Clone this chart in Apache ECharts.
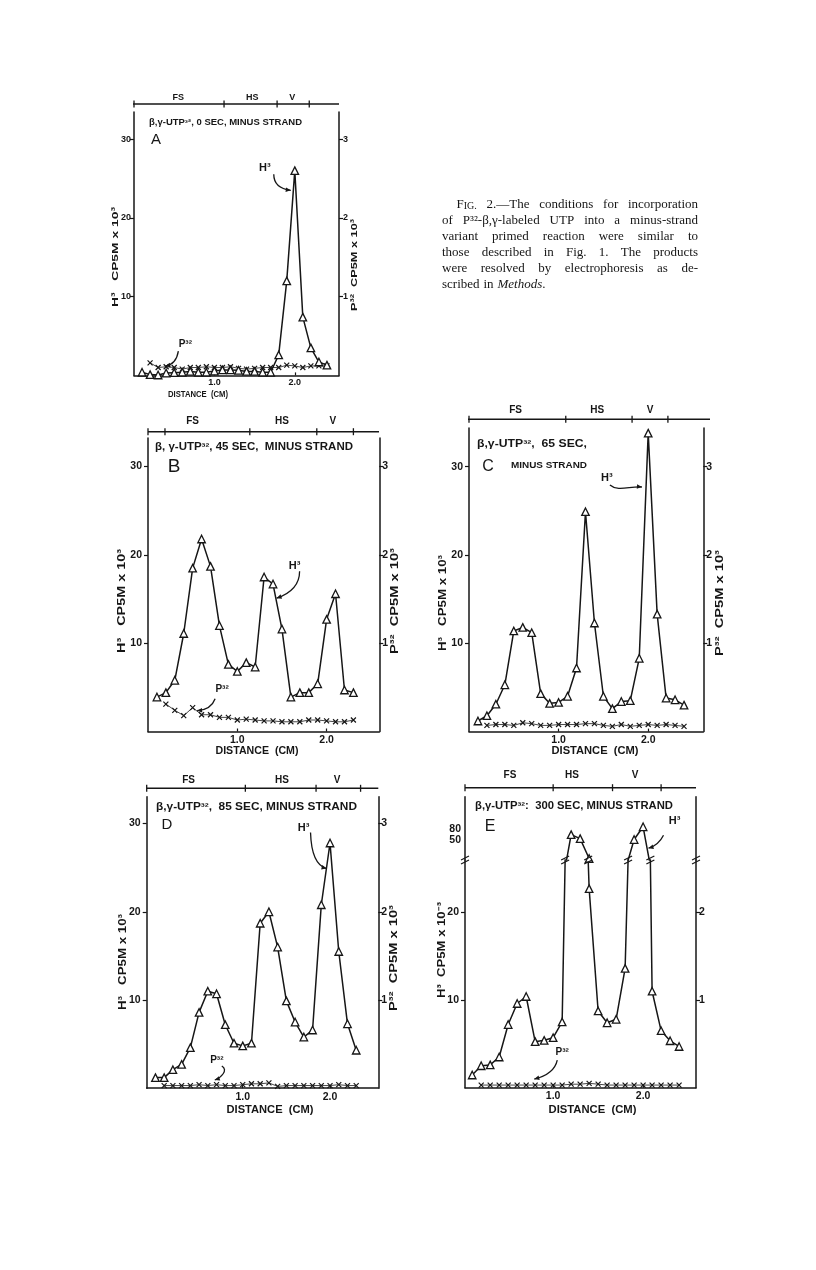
<!DOCTYPE html>
<html><head><meta charset="utf-8">
<script src="https://cdn.jsdelivr.net/npm/echarts@6.0.0/dist/echarts.min.js"></script>
<style>html,body{margin:0;padding:0;background:#fff;}#chart{width:816px;height:1270px;}</style>
</head><body><div id="chart"></div>
<script>
// ================= DATA =================
const bandNames = ['FS', 'HS', 'V'];

// Panel A : 0 sec
const distA_H3 = [0.1,0.2,0.3,0.4,0.5,0.6,0.7,0.8,0.9,1.0,1.1,1.2,1.3,1.4,1.5,1.6,1.7,1.8,1.9,2.0,2.1,2.2,2.3,2.4];
const A_H3 = [0.4,0.1,0.05,0.3,0.35,0.4,0.5,0.4,0.4,0.55,0.7,0.7,0.65,0.5,0.5,0.4,0.4,2.6,12.0,26.0,7.4,3.5,1.7,1.3];
const distA_P32 = [0.2,0.3,0.4,0.5,0.6,0.7,0.8,0.9,1.0,1.1,1.2,1.3,1.4,1.5,1.6,1.7,1.8,1.9,2.0,2.1,2.2,2.3,2.4];
const A_P32 = [0.16,0.10,0.11,0.10,0.08,0.10,0.10,0.11,0.10,0.10,0.11,0.09,0.08,0.09,0.10,0.10,0.10,0.13,0.12,0.10,0.12,0.12,0.12];
const bandTicksA = [0, 1.12, 1.78, 2.18];
const bandLabelAtA = [0.55, 1.47, 1.97];

// Panel B : 45 sec
const distB_H3 = [0.1,0.2,0.3,0.4,0.5,0.6,0.7,0.8,0.9,1.0,1.1,1.2,1.3,1.4,1.5,1.6,1.7,1.8,1.9,2.0,2.1,2.2,2.3];
const B_H3 = [3.9,4.4,5.8,11.1,18.5,21.8,18.7,12.0,7.6,6.8,7.8,7.3,17.5,16.7,11.6,3.9,4.4,4.4,5.4,12.7,15.6,4.7,4.4];
const distB_P32 = [0.2,0.3,0.4,0.5,0.6,0.7,0.8,0.9,1.0,1.1,1.2,1.3,1.4,1.5,1.6,1.7,1.8,1.9,2.0,2.1,2.2,2.3];
const B_P32 = [0.31,0.24,0.18,0.27,0.19,0.19,0.16,0.16,0.13,0.14,0.13,0.12,0.12,0.11,0.11,0.11,0.13,0.13,0.12,0.11,0.11,0.13];
const bandTicksB = [0, 0.19, 1.14, 1.89, 2.3];
const bandLabelAtB = [0.5, 1.5, 2.07];

// Panel C : 65 sec
const distC_H3 = [0.1,0.2,0.3,0.4,0.5,0.6,0.7,0.8,0.9,1.0,1.1,1.2,1.3,1.4,1.5,1.6,1.7,1.8,1.9,2.0,2.1,2.2,2.3,2.4];
const C_H3 = [1.2,1.8,3.1,5.3,11.4,11.8,11.2,4.3,3.2,3.3,4.0,7.2,24.9,12.3,4.0,2.6,3.4,3.5,8.3,33.8,13.3,3.8,3.6,3.0];
const distC_P32 = [0.2,0.3,0.4,0.5,0.6,0.7,0.8,0.9,1.0,1.1,1.2,1.3,1.4,1.5,1.6,1.7,1.8,1.9,2.0,2.1,2.2,2.3,2.4];
const C_P32 = [0.07,0.08,0.08,0.07,0.10,0.09,0.07,0.07,0.08,0.08,0.08,0.09,0.09,0.07,0.06,0.08,0.06,0.07,0.08,0.07,0.08,0.07,0.06];
const bandTicksC = [0, 1.08, 1.82, 2.22];
const bandLabelAtC = [0.52, 1.43, 2.02];

// Panel D : 85 sec
const distD_H3 = [0.0,0.1,0.2,0.3,0.4,0.5,0.6,0.7,0.8,0.9,1.0,1.1,1.2,1.3,1.4,1.5,1.6,1.7,1.8,1.9,2.0,2.1,2.2,2.3];
const D_H3 = [1.2,1.2,2.1,2.7,4.6,8.6,11.0,10.7,7.2,5.1,4.8,5.1,18.7,20.0,16.0,9.9,7.5,5.8,6.6,20.8,27.8,15.5,7.3,4.3];
const distD_P32 = [0.1,0.2,0.3,0.4,0.5,0.6,0.7,0.8,0.9,1.0,1.1,1.2,1.3,1.4,1.5,1.6,1.7,1.8,1.9,2.0,2.1,2.2,2.3];
const D_P32 = [0.03,0.03,0.03,0.03,0.04,0.03,0.04,0.03,0.03,0.04,0.05,0.05,0.06,0.02,0.03,0.03,0.03,0.03,0.03,0.03,0.04,0.03,0.03];
const bandTicksD = [-0.1, 1.03, 1.84, 2.35];
const bandLabelAtD = [0.38, 1.45, 2.08];

// Panel E : 300 sec (broken H3 axis)
const distE_H3 = [0.1,0.2,0.3,0.4,0.5,0.6,0.7,0.8,0.9,1.0,1.1,1.2,1.3,1.4,1.5,1.6,1.7,1.8,1.9,2.0,2.1,2.2,2.3,2.4];
const E_H3 = [1.45,2.5,2.6,3.5,7.2,9.6,10.4,5.25,5.4,5.7,7.5,63,53,22.7,8.75,7.4,7.8,13.6,51,88,11.0,6.5,5.35,4.7];
const distE_P32 = [0.2,0.3,0.4,0.5,0.6,0.7,0.8,0.9,1.0,1.1,1.2,1.3,1.4,1.5,1.6,1.7,1.8,1.9,2.0,2.1,2.2,2.3,2.4];
const E_P32 = [0.03,0.03,0.03,0.03,0.03,0.03,0.03,0.03,0.03,0.03,0.04,0.04,0.05,0.04,0.03,0.03,0.03,0.03,0.03,0.03,0.03,0.03,0.03];
const bandTicksE = [0.02, 1.0, 1.66, 2.2];
const bandLabelAtE = [0.52, 1.21, 1.91];
const E_upperLabels = [50, 80];

const captionLines = [
  'FIG. 2.—The conditions for incorporation',
  'of P³²-β,γ-labeled UTP into a minus-strand',
  'variant primed reaction were similar to',
  'those described in Fig. 1. The products',
  'were resolved by electrophoresis as de-',
  'scribed in Methods.'
];

// ================= LAYOUT / STYLE =================
const SANS = "'Liberation Sans', Arial, sans-serif";
const SERIF = "'Liberation Serif', 'Times New Roman', serif";
const INK = '#161616';

const panels = [
  {key:'A', hx:distA_H3, h:A_H3, px:distA_P32, p:A_P32, bandT:bandTicksA, bandL:bandLabelAtA,
   left:134, top:112, width:205, height:263.4, xMin:0, xMax:2.55, yMax:33.45, rMax:3.345,
   yTicks:[10,20,30], rTicks:[1,2,3], fs:9, ylMargin:3, yrMargin:4,
   bandY:104, bandX0:133, bandX1:339, bandLabelY:98, bandFs:9,
   title:[{t:'β,γ-UTP³², 0 SEC, MINUS STRAND', x:149, y:123, w:153, s:8.5}],
   letter:{t:'A', x:156, y:140, s:15},
   xTitle:{x:198, y:395, w:60, s:9},
   yTitleL:{t:'H³   CP5M x 10³', x:115, y:257, w:100, s:9.5},
   yTitleR:{t:'P³²  CP5M x 10³', x:354, y:265, w:92, s:9.5}},
  {key:'B', hx:distB_H3, h:B_H3, px:distB_P32, p:B_P32, bandT:bandTicksB, bandL:bandLabelAtB,
   left:148, top:438, width:231.3, height:293.5, xMin:0, xMax:2.59, yMax:33.24, rMax:3.324,
   yTicks:[10,20,30], rTicks:[1,2,3], fs:10.5, ylMargin:6, yrMargin:3,
   bandY:431.7, bandX0:148, bandX1:379, bandLabelY:421.7, bandFs:10,
   title:[{t:'β, γ-UTP³², 45 SEC,  MINUS STRAND', x:155, y:447.3, w:198, s:10}],
   letter:{t:'B', x:174, y:467, s:19},
   xTitle:{x:257, y:751, w:83, s:10.5},
   yTitleL:{t:'H³   CP5M x 10³', x:122, y:601, w:104, s:10.5},
   yTitleR:{t:'P³²  CP5M x 10³', x:395, y:601, w:106, s:10.5}},
  {key:'C', hx:distC_H3, h:C_H3, px:distC_P32, p:C_P32, bandT:bandTicksC, bandL:bandLabelAtC,
   left:469, top:428, width:234.3, height:303.6, xMin:0, xMax:2.615, yMax:34.38, rMax:3.438,
   yTicks:[10,20,30], rTicks:[1,2,3], fs:10.5, ylMargin:6, yrMargin:3,
   bandY:419.3, bandX0:468, bandX1:710, bandLabelY:410, bandFs:10,
   title:[{t:'β,γ-UTP³²,  65 SEC,', x:477, y:444, w:110, s:10},{t:'MINUS STRAND', x:511, y:465, w:76, s:9.5}],
   letter:{t:'C', x:488, y:467, s:16},
   xTitle:{x:595, y:751, w:87, s:10.5},
   yTitleL:{t:'H³   CP5M x 10³', x:443, y:603, w:96, s:10.5},
   yTitleR:{t:'P³²  CP5M x 10³', x:720, y:603, w:106, s:10.5}},
  {key:'D', hx:distD_H3, h:D_H3, px:distD_P32, p:D_P32, bandT:bandTicksD, bandL:bandLabelAtD,
   left:146.7, top:796.7, width:231.6, height:291.5, xMin:-0.1, xMax:2.553, yMax:33.05, rMax:3.305,
   yTicks:[10,20,30], rTicks:[1,2,3], fs:10.5, ylMargin:6, yrMargin:3,
   bandY:788.3, bandX0:146.7, bandX1:378.3, bandLabelY:780, bandFs:10,
   title:[{t:'β,γ-UTP³²,  85 SEC, MINUS STRAND', x:156, y:807.7, w:201, s:10}],
   letter:{t:'D', x:167, y:825, s:15},
   xTitle:{x:270, y:1110, w:87, s:10.5},
   yTitleL:{t:'H³   CP5M x 10³', x:123, y:962, w:96, s:10.5},
   yTitleR:{t:'P³²  CP5M x 10³', x:394, y:958, w:106, s:10.5}},
  {key:'E', hx:distE_H3, h:E_H3, px:distE_P32, p:E_P32, bandT:bandTicksE, bandL:bandLabelAtE,
   left:465, top:860, width:231, height:227.7, xMin:0.02, xMax:2.588, yMax:25.96, rMax:2.596,
   yTicks:[10,20], rTicks:[1,2], fs:10.5, ylMargin:6, yrMargin:3,
   bandY:787.7, bandX0:465, bandX1:696, bandLabelY:775, bandFs:10,
   upper:{top:796.7, height:63.3, min:21.3, max:318},
   title:[{t:'β,γ-UTP³²:  300 SEC, MINUS STRAND', x:475, y:806.7, w:198, s:10}],
   letter:{t:'E', x:490, y:826.7, s:16},
   xTitle:{x:592.5, y:1110, w:88, s:10.5},
   yTitleL:{t:'H³  CP5M x 10⁻³', x:442, y:950, w:96, s:10.5},
   yTitleR:null}
];

const labelFont = (s) => ({color:INK, fontFamily:SANS, fontWeight:'bold', fontSize:s});

// ================= OPTION =================
const option = {animation:false, backgroundColor:'#fff', grid:[], xAxis:[], yAxis:[], series:[]};

function lineAxis(extra) {
  return Object.assign({splitLine:{show:false}}, extra);
}
const H3_STYLE = {
  symbol:'triangle', symbolSize:7.5, showAllSymbol:true,
  itemStyle:{color:'#fff', borderColor:INK, borderWidth:1.3},
  lineStyle:{color:INK, width:1.5}, z:3
};

panels.forEach(p => {
  const g = option.grid.length;
  option.grid.push({left:p.left, top:p.top, width:p.width, height:p.height});
  p.xi = option.xAxis.length;
  option.xAxis.push(lineAxis({gridIndex:g, type:'value', position:'bottom', min:p.xMin, max:p.xMax,
    axisLine:{show:true, onZero:false, lineStyle:{color:INK, width:1.5}},
    axisTick:{show:true, inside:true, length:3, customValues:[1,2], lineStyle:{color:INK, width:1.2}},
    axisLabel:Object.assign({show:true, customValues:[1,2], formatter:v => v.toFixed(1), margin:3}, labelFont(p.fs))}));
  p.yl = option.yAxis.length;
  option.yAxis.push(lineAxis({gridIndex:g, type:'value', position:'left', min:0, max:p.yMax,
    axisLine:{show:true, onZero:false, lineStyle:{color:INK, width:1.5}},
    axisTick:{show:true, inside:false, length:4, customValues:p.yTicks, lineStyle:{color:INK, width:1.2}},
    axisLabel:Object.assign({show:true, customValues:p.yTicks, margin:p.ylMargin}, labelFont(p.fs))}));
  p.yr = option.yAxis.length;
  option.yAxis.push(lineAxis({gridIndex:g, type:'value', position:'right', min:0, max:p.rMax,
    axisLine:{show:true, onZero:false, lineStyle:{color:INK, width:1.5}},
    axisTick:{show:true, inside:false, length:4, customValues:p.rTicks, lineStyle:{color:INK, width:1.2}},
    axisLabel:Object.assign({show:true, customValues:p.rTicks, margin:p.yrMargin}, labelFont(p.fs))}));
  p.sH = option.series.length;
  option.series.push(Object.assign({type:'line', xAxisIndex:p.xi, yAxisIndex:p.yl, silent:true, clip:true,
    data:p.hx.map((x,i) => [x, p.h[i]])}, H3_STYLE));
  p.sP = option.series.length;
  option.series.push({type:'line', xAxisIndex:p.xi, yAxisIndex:p.yr, silent:true, clip:true,
    data:p.px.map((x,i) => [x, p.p[i]]),
    symbol:'path://M0,0L10,10M10,0L0,10', symbolSize:5, showAllSymbol:true,
    itemStyle:{color:'none', borderColor:INK, borderWidth:1.2},
    lineStyle:{color:INK, width:0.8}, z:2});
  if (p.upper) {
    const gu = option.grid.length;
    option.grid.push({left:p.left, top:p.upper.top, width:p.width, height:p.upper.height});
    p.xiU = option.xAxis.length;
    option.xAxis.push({gridIndex:gu, type:'value', min:p.xMin, max:p.xMax, show:false});
    p.ylU = option.yAxis.length;
    option.yAxis.push(lineAxis({gridIndex:gu, type:'log', logBase:10, position:'left', min:p.upper.min, max:p.upper.max,
      axisLine:{show:true, onZero:false, lineStyle:{color:INK, width:1.5}},
      axisTick:{show:false}, axisLabel:{show:false}}));
    p.yrU = option.yAxis.length;
    option.yAxis.push(lineAxis({gridIndex:gu, type:'value', position:'right', min:0, max:1,
      axisLine:{show:true, onZero:false, lineStyle:{color:INK, width:1.5}},
      axisTick:{show:false}, axisLabel:{show:false}}));
    p.sHU = option.series.length;
    option.series.push(Object.assign({type:'line', xAxisIndex:p.xiU, yAxisIndex:p.ylU, silent:true, clip:true,
      data:p.hx.map((x,i) => [x, p.h[i]])}, H3_STYLE));
  }
});

const chart = echarts.init(document.getElementById('chart'), null, {renderer:'canvas', width:816, height:1270});
chart.setOption(option);

// ================= ANNOTATION GRAPHICS =================
const mctx = document.createElement('canvas').getContext('2d');
function tw(t, size, weight, fam, fstyle) {
  mctx.font = `${fstyle||'normal'} ${weight||'normal'} ${size}px ${fam||SANS}`;
  return mctx.measureText(t).width;
}
function fitText(t, x, y, w, size, o) {
  o = o || {};
  const weight = o.weight || 'bold', fam = o.family || SANS;
  const m = tw(t, size, weight, fam);
  return {type:'text', x:x, y:y, rotation:o.rot||0, scaleX:w/m, z:60, silent:true,
    style:{text:t, font:`normal ${weight} ${size}px ${fam}`, fill:INK,
      align:o.align||'center', verticalAlign:'middle'}};
}
function plainText(t, x, y, size, o) {
  o = o || {};
  return {type:'text', x:x, y:y, z:60, silent:true,
    style:{text:t, font:`normal ${o.weight||'bold'} ${size}px ${o.family||SANS}`, fill:INK,
      align:o.align||'center', verticalAlign:'middle'}};
}
const G = [];
const pix = (si, pt) => chart.convertToPixel({seriesIndex:si}, pt);

panels.forEach(p => {
  // region band (FS / HS / V)
  G.push({type:'line', z:55, silent:true, shape:{x1:p.bandX0, y1:p.bandY, x2:p.bandX1, y2:p.bandY},
    style:{stroke:INK, lineWidth:1.4}});
  p.bandT.forEach(v => {
    const x = chart.convertToPixel({xAxisIndex:p.xi}, v);
    G.push({type:'line', z:55, silent:true, shape:{x1:x, y1:p.bandY-3.5, x2:x, y2:p.bandY+3.5},
      style:{stroke:INK, lineWidth:1.3}});
  });
  p.bandL.forEach((v, i) => {
    const x = chart.convertToPixel({xAxisIndex:p.xi}, v);
    G.push(plainText(bandNames[i], x, p.bandLabelY, p.bandFs));
  });
  // titles
  p.title.forEach(t => G.push(fitText(t.t, t.x, t.y, t.w, t.s, {align:'left'})));
  G.push(plainText(p.letter.t, p.letter.x, p.letter.y, p.letter.s, {weight:'normal'}));
  G.push(fitText('DISTANCE  (CM)', p.xTitle.x, p.xTitle.y, p.xTitle.w, p.xTitle.s));
  G.push(fitText(p.yTitleL.t, p.yTitleL.x, p.yTitleL.y, p.yTitleL.w, p.yTitleL.s, {rot:Math.PI/2}));
  if (p.yTitleR) G.push(fitText(p.yTitleR.t, p.yTitleR.x, p.yTitleR.y, p.yTitleR.w, p.yTitleR.s, {rot:Math.PI/2}));
});

// curved arrows with labels (tip in data coordinates, rest as pixel offsets from tip)
const notes = [
  {k:'A', t:'H³',  tip:[1.95,23.5], tx:-26, ty:-22, s:[-17,-16], c:[[-17,-2]]},
  {k:'A', t:'P³²', tip:[0.39,1.19], tx:20, ty:-22, s:[13,-15], c:[[11,-2]]},
  {k:'B', t:'H³',  tip:[1.44,15.1], tx:18, ty:-32, s:[23,-27], c:[[23,-8]]},
  {k:'B', t:'P³²', tip:[0.55,2.36], tx:25, ty:-21, s:[18,-12], c:[[14,-1]]},
  {k:'C', t:'H³',  tip:[1.93,27.7], tx:-35, ty:-9, s:[-32,-2], c:[[-24,5],[-12,-1]]},
  {k:'D', t:'H³',  tip:[1.96,24.9], tx:-23, ty:-41, s:[-16,-36], c:[[-15,-4]]},
  {k:'D', t:'P³²', tip:[0.68,0.93], tx:2, ty:-20, s:[7,-14], c:[[14,-10],[6,-2]]},
  {k:'E', t:'H³',  tip:[2.06,27.3], tx:26, ty:-27, s:[15,-13], c:[[10,-3]]},
  {k:'E', t:'P³²', tip:[0.79,0.99], tx:28, ty:-27, s:[23,-19], c:[[20,-5]]}
];
notes.forEach(n => {
  const p = panels.find(q => q.key === n.k);
  const tip = pix(p.sH, n.tip);
  const sx = tip[0] + n.s[0], sy = tip[1] + n.s[1];
  const shape = {x1:sx, y1:sy, x2:tip[0], y2:tip[1], cpx1:tip[0]+n.c[0][0], cpy1:tip[1]+n.c[0][1]};
  let last = n.c[0];
  if (n.c[1]) { shape.cpx2 = tip[0]+n.c[1][0]; shape.cpy2 = tip[1]+n.c[1][1]; last = n.c[1]; }
  G.push({type:'bezierCurve', z:55, silent:true, shape:shape, style:{stroke:INK, lineWidth:1.3, fill:null}});
  const dx = -last[0], dy = -last[1], len = Math.hypot(dx, dy) || 1;
  const ux = dx/len, uy = dy/len, hl = 5, hw = 2.3;
  G.push({type:'polygon', z:55, silent:true, shape:{points:[
    [tip[0], tip[1]],
    [tip[0]-ux*hl - uy*hw, tip[1]-uy*hl + ux*hw],
    [tip[0]-ux*hl + uy*hw, tip[1]-uy*hl - ux*hw]]}, style:{fill:INK}});
  G.push(plainText(n.t, tip[0]+n.tx, tip[1]+n.ty, n.t === 'H³' ? 11 : 10));
});

// Panel E: upper (compressed) scale labels and axis-break marks
(function () {
  const p = panels.find(q => q.key === 'E');
  E_upperLabels.forEach(v => {
    const y = chart.convertToPixel({yAxisIndex:p.ylU}, v);
    G.push({type:'text', x:p.left-4, y:y, z:60, silent:true,
      style:{text:String(v), font:`normal bold ${p.fs}px ${SANS}`, fill:INK, align:'right', verticalAlign:'middle'}});
  });
  function breakMark(x, y, hw) {
    [-2, 2].forEach(d => G.push({type:'line', z:58, silent:true,
      shape:{x1:x-hw, y1:y+d+2, x2:x+hw, y2:y+d-2}, style:{stroke:INK, lineWidth:1.2}}));
  }
  const yTop = p.top;
  breakMark(p.left, yTop, 4);
  breakMark(p.left + p.width, yTop, 4);
  const brk = p.yMax;
  for (let i = 0; i < p.h.length - 1; i++) {
    if ((p.h[i] - brk) * (p.h[i+1] - brk) < 0) {
      const a = pix(p.sH, [p.hx[i], p.h[i]]), b = pix(p.sH, [p.hx[i+1], p.h[i+1]]);
      const t = (yTop - a[1]) / (b[1] - a[1]);
      breakMark(a[0] + t*(b[0]-a[0]), yTop, 4);
    }
  }
})();

// Figure caption (justified)
(function () {
  const size = 13, lh = 16, y0 = 205, xL = 442, xR = 698, indent = 456.5;
  function wordParts(w) {
    if (w === 'FIG.') return [{t:'F', s:size}, {t:'IG.', s:10, dy:1.2}];
    if (w === 'Methods.') return [{t:'Methods', s:size, it:true}, {t:'.', s:size}];
    return [{t:w, s:size}];
  }
  function partW(pt) { return tw(pt.t, pt.s, 'normal', SERIF, pt.it ? 'italic' : 'normal'); }
  captionLines.forEach((line, li) => {
    const words = line.split(' ');
    const parts = words.map(wordParts);
    const widths = parts.map(ps => ps.reduce((a, pt) => a + partW(pt), 0));
    const start = li === 0 ? indent : xL;
    const total = widths.reduce((a, b) => a + b, 0);
    const last = li === captionLines.length - 1;
    const gap = last ? tw(' ', size, 'normal', SERIF) * 1.2 : (xR - start - total) / (words.length - 1);
    let x = start;
    const y = y0 + li * lh;
    parts.forEach((ps, wi) => {
      let px = x;
      ps.forEach(pt => {
        G.push({type:'text', x:px, y:y + (pt.dy || 0), z:60, silent:true,
          style:{text:pt.t, font:`${pt.it ? 'italic' : 'normal'} normal ${pt.s}px ${SERIF}`, fill:INK,
            align:'left', verticalAlign:'middle'}});
        px += partW(pt);
      });
      x += widths[wi] + gap;
    });
  });
})();

chart.setOption({graphic:{elements:G}});
</script></body></html>
